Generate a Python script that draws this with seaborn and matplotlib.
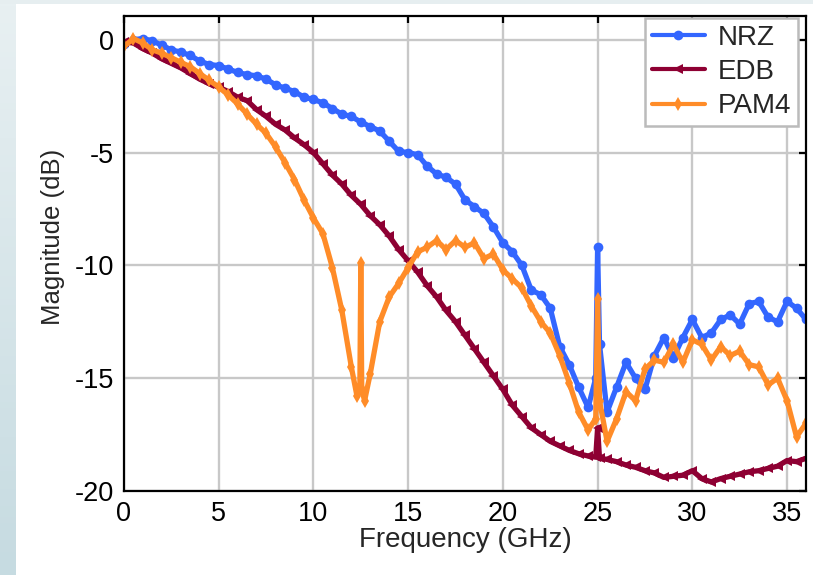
import numpy as np
import pandas as pd
import matplotlib
matplotlib.use('Agg')
import matplotlib.pyplot as plt
import seaborn as sns

# ==================== Data ====================
nrz_freq = [0, 0.5, 1, 1.5, 2, 2.5, 3, 3.5, 4, 4.5, 5, 5.5, 6, 6.5, 7, 7.5, 8, 8.5,
            9, 9.5, 10, 10.5, 11, 11.5, 12, 12.5, 13, 13.5, 14, 14.5, 15, 15.5, 16,
            16.5, 17, 17.5, 18, 18.5, 19, 19.5, 20, 20.5, 21, 21.5, 22, 22.5, 23,
            23.5, 24, 24.5, 24.9, 25.0, 25.1, 25.5, 26, 26.5, 27, 27.5, 28, 28.5,
            29, 29.5, 30, 30.5, 31, 31.5, 32, 32.5, 33, 33.5, 34, 34.5, 35, 35.5, 36]
nrz_mag = [-0.2, 0.0, 0.05, -0.05, -0.25, -0.45, -0.55, -0.7, -0.95, -1.1, -1.15,
           -1.3, -1.45, -1.55, -1.6, -1.75, -2.0, -2.15, -2.3, -2.55, -2.65, -2.8,
           -3.05, -3.3, -3.4, -3.65, -3.85, -4.05, -4.5, -4.95, -5.0, -5.1, -5.6,
           -5.95, -6.1, -6.4, -7.1, -7.4, -7.7, -8.3, -9.0, -9.4, -10.0, -11.1,
           -11.3, -11.9, -13.6, -14.4, -15.4, -16.3, -15.0, -9.2, -13.5, -16.5,
           -15.4, -14.3, -15.0, -15.5, -14.0, -13.2, -14.1, -13.2, -12.4, -13.2,
           -13.0, -12.4, -12.2, -12.6, -11.7, -11.6, -12.3, -12.5, -11.6, -11.9, -12.4]

edb_freq = [0, 0.5, 1, 1.5, 2, 2.5, 3, 3.5, 4, 4.5, 5, 5.5, 6, 6.5, 7, 7.5, 8, 8.5,
            9, 9.5, 10, 10.5, 11, 11.5, 12, 12.5, 13, 13.5, 14, 14.5, 15, 15.5, 16,
            16.5, 17, 17.5, 18, 18.5, 19, 19.5, 20, 20.5, 21, 21.5, 22, 22.5, 23,
            23.5, 24, 24.5, 24.9, 25.0, 25.1, 25.5, 26, 26.5, 27, 27.5, 28, 28.5,
            29, 29.5, 30, 30.5, 31, 31.5, 32, 32.5, 33, 33.5, 34, 34.5, 35, 35.5, 36]
edb_mag = [-0.1, -0.15, -0.4, -0.6, -0.85, -1.05, -1.25, -1.5, -1.75, -1.95, -2.1,
           -2.3, -2.55, -2.7, -3.1, -3.4, -3.75, -4.0, -4.35, -4.65, -5.0, -5.5,
           -6.0, -6.4, -6.9, -7.3, -7.8, -8.2, -8.7, -9.3, -9.8, -10.3, -10.9,
           -11.4, -12.0, -12.5, -13.1, -13.7, -14.3, -14.9, -15.5, -16.2, -16.7,
           -17.2, -17.5, -17.8, -18.0, -18.2, -18.35, -18.45, -18.5, -17.2, -18.55,
           -18.6, -18.7, -18.85, -18.95, -19.1, -19.2, -19.4, -19.35, -19.3, -19.1,
           -19.45, -19.6, -19.45, -19.35, -19.25, -19.15, -19.1, -19.0, -18.9,
           -18.65, -18.7, -18.55]

pam4_freq = [0, 0.5, 1, 1.5, 2, 2.5, 3, 3.5, 4, 4.5, 5, 5.5, 6, 6.5, 7, 7.5, 8, 8.5,
             9, 9.5, 10, 10.5, 11, 11.5, 12, 12.3, 12.45, 12.5, 12.55, 12.7, 13,
             13.5, 14, 14.5, 15, 15.5, 16, 16.5, 17, 17.5, 18, 18.5, 19, 19.5, 20,
             20.5, 21, 21.5, 22, 22.5, 23, 23.5, 24, 24.5, 24.9, 25.0, 25.1, 25.5,
             26, 26.5, 27, 27.5, 28, 28.5, 29, 29.5, 30, 30.5, 31, 31.5, 32, 32.5,
             33, 33.5, 34, 34.5, 35, 35.5, 36]
pam4_mag = [-0.3, 0.05, -0.15, -0.45, -0.6, -0.8, -1.0, -1.2, -1.5, -1.8, -2.1,
            -2.45, -2.85, -3.3, -3.75, -4.15, -4.75, -5.45, -6.2, -7.1, -7.9, -8.6,
            -10.1, -12.0, -14.5, -15.8, -15.5, -9.9, -15.5, -16.0, -14.8, -12.5,
            -11.4, -10.8, -10.1, -9.4, -9.2, -8.9, -9.3, -8.9, -9.2, -9.0, -9.7,
            -9.5, -10.2, -10.6, -11.0, -11.8, -12.5, -13.0, -14.0, -15.2, -16.5,
            -17.3, -16.8, -11.5, -16.0, -17.8, -16.8, -15.6, -16.0, -14.6, -14.2,
            -14.3, -13.5, -14.3, -13.3, -13.5, -14.2, -13.6, -14.0, -13.8, -14.4,
            -14.5, -15.3, -15.0, -16.0, -17.6, -17.0]

signals = ['NRZ', 'EDB', 'PAM4']
colors = {'NRZ': '#3366FF', 'EDB': '#8E0033', 'PAM4': '#FF8C28'}
markers = {'NRZ': 'o', 'EDB': '<', 'PAM4': 'd'}

df = pd.concat([
    pd.DataFrame({'freq': nrz_freq, 'mag': nrz_mag, 'signal': 'NRZ'}),
    pd.DataFrame({'freq': edb_freq, 'mag': edb_mag, 'signal': 'EDB'}),
    pd.DataFrame({'freq': pam4_freq, 'mag': pam4_mag, 'signal': 'PAM4'}),
], ignore_index=True)

# ==================== Plot ====================
sns.set_theme(style='white')
plt.rcParams['font.family'] = ['Liberation Sans', 'DejaVu Sans']
plt.rcParams['axes.unicode_minus'] = False

fig = plt.figure(figsize=(8.13, 5.75), dpi=100)
fig.patch.set_facecolor('white')

# light slide background strips (left and top)
bg = fig.add_axes([0, 0, 0.019, 1], zorder=-10)
bg.imshow(np.linspace(0, 1, 100).reshape(-1, 1), aspect='auto',
          cmap=matplotlib.colors.LinearSegmentedColormap.from_list('bg', ['#e8f0f2', '#c6dbe1']))
bg.axis('off')
top = fig.add_axes([0, 0.993, 1, 0.007], zorder=-10)
top.set_facecolor('#e6eef0')
top.set_xticks([])
top.set_yticks([])
for s in top.spines.values():
    s.set_visible(False)

ax = fig.add_axes([0.1525, 0.1461, 0.8389, 0.8261])
sns.lineplot(data=df, x='freq', y='mag', hue='signal', style='signal',
             hue_order=signals, style_order=signals, palette=colors,
             markers=markers, dashes=False, estimator=None, sort=False,
             linewidth=3.8, markersize=7, markeredgewidth=0, ax=ax)

ax.set_xlim(0, 36)
ax.set_ylim(-20, 1.05)
ax.set_xticks(range(0, 36, 5))
ax.set_yticks(range(-20, 1, 5))
ax.grid(True, color='#c8c8c8', linewidth=1.7)
ax.set_axisbelow(True)
ax.tick_params(direction='in', length=5, width=1.6, colors='black',
               labelsize=19.5, pad=7, top=True, right=True)
for s in ax.spines.values():
    s.set_color('black')
    s.set_linewidth(1.6)

ax.set_xlabel('Frequency (GHz)', fontsize=20, labelpad=0)
ax.set_ylabel('Magnitude (dB)', fontsize=18.5)
ax.yaxis.set_label_coords(-0.087, 0.535)

handles, labels = ax.get_legend_handles_labels()
for h in handles:
    h.set_linewidth(3)
    h.set_markersize(7)
leg = ax.legend(handles, labels, loc='upper right', bbox_to_anchor=(0.988, 0.996),
                borderaxespad=0, fontsize=20, frameon=True, fancybox=False,
                framealpha=1, edgecolor='#bbbbbb', handlelength=1.9,
                handletextpad=0.45, labelspacing=0.3, borderpad=0.25)
leg.get_frame().set_linewidth(1.8)

fig.savefig('out.png', dpi=100)
